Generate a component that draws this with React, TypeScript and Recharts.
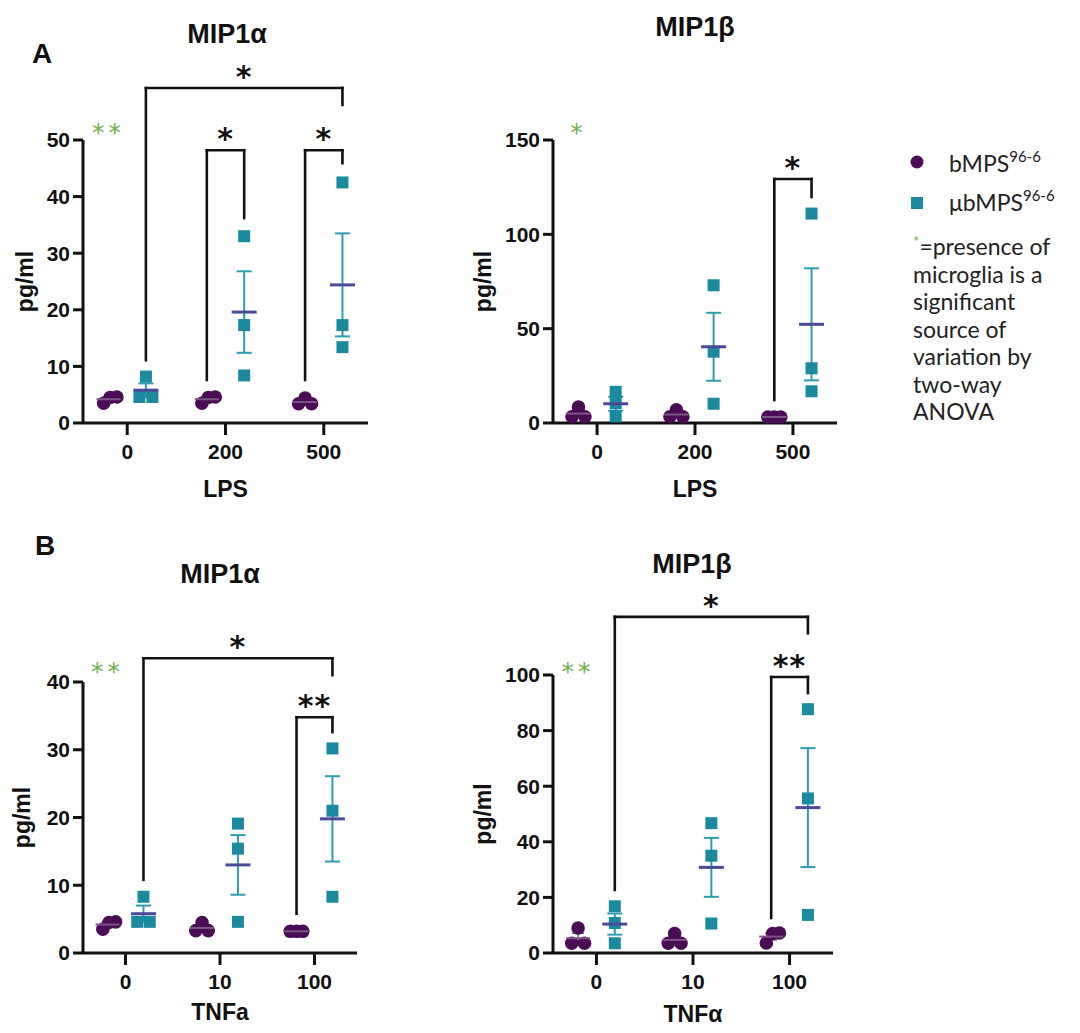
import React from "react";
import {
  ScatterChart,
  Scatter,
  XAxis,
  YAxis,
  ErrorBar,
  ReferenceLine,
  ReferenceDot,
} from "recharts";

const PURPLE = "#4a0d55";
const TEAL = "#1b8a9e";
const MEAN_TEAL = "#4b4a9a";
const ERR_TEAL = "#2f9db1";
const MEAN_PURPLE = "#7e5587";
const GREEN = "#6db14a";
const INK = "#111";
const AXIS_FONT = "'Liberation Sans', Arial, sans-serif";
const STAR_FONT = "'DejaVu Sans', sans-serif";
const NOTE_FONT = "Lato, 'Open Sans', sans-serif";

// x categories
const lpsDoses = ["0", "200", "500"];
const tnfDoses = ["0", "10", "100"];

// A - MIP1α vs LPS
const a1Bmps = [[3.5, 4.5, 4.6], [3.5, 4.5, 4.6], [3.4, 4.4, 3.4]];
const a1BmpsMean = [4.2, 4.2, 3.7];
const a1BmpsSem = [0.35, 0.35, 0.33];
const a1Ubmps = [[8.2, 4.6, 4.6], [33.0, 17.3, 8.4], [42.5, 17.3, 13.4]];
const a1UbmpsMean = [5.8, 19.6, 24.4];
const a1UbmpsSem = [1.2, 7.2, 9.1];

// A - MIP1β vs LPS
const a2Bmps = [[3.3, 8.5, 3.3], [3.3, 7.0, 3.3], [3.2, 3.2, 3.2]];
const a2BmpsMean = [5.0, 4.5, 3.2];
const a2BmpsSem = [1.7, 1.2, 0.05];
const a2Ubmps = [[16.5, 10.5, 3.5], [73.0, 37.8, 10.2], [111.0, 29.0, 16.8]];
const a2UbmpsMean = [10.2, 40.4, 52.3];
const a2UbmpsSem = [3.7, 18.0, 29.7];

// B - MIP1α vs TNFa
const b1Bmps = [[3.5, 4.5, 4.6], [3.3, 4.5, 3.3], [3.2, 3.2, 3.2]];
const b1BmpsMean = [4.2, 3.7, 3.2];
const b1BmpsSem = [0.35, 0.4, 0.05];
const b1Ubmps = [[8.3, 4.6, 4.6], [19.1, 15.4, 4.6], [30.2, 21.0, 8.3]];
const b1UbmpsMean = [5.8, 13.0, 19.8];
const b1UbmpsSem = [1.2, 4.4, 6.3];

// B - MIP1β vs TNFα
const b2Bmps = [[3.5, 9.0, 3.5], [3.5, 7.0, 3.5], [3.6, 7.0, 7.2]];
const b2BmpsMean = [5.3, 4.7, 5.9];
const b2BmpsSem = [1.8, 1.2, 1.2];
const b2Ubmps = [[16.8, 10.8, 3.5], [46.7, 35.0, 10.6], [87.7, 55.6, 13.7]];
const b2UbmpsMean = [10.4, 30.8, 52.3];
const b2UbmpsSem = [3.8, 10.6, 21.4];

// horizontal spread of points that collide inside a column
const DIAG = [-0.05, 0.015, 0.085];
const SPREAD = [-0.066, 0, 0.066];
const PAIR = [0, -0.066, 0.066];
const NONE = [0, 0, 0];

const OFF = 0.19;
const P = (i: number) => i - OFF;
const U = (i: number) => i + OFF;
const X_DOMAIN = [-0.45, 2.45];

type Bracket = { x1: number; x2: number; top: number; low1: number; low2: number; mark: string };

const a1Brackets: Bracket[] = [
  { x1: U(0), x2: U(2), top: 59.2, low1: 11.1, low2: 56.2, mark: "*" },
  { x1: P(1), x2: U(1), top: 48.2, low1: 7.6, low2: 36.2, mark: "*" },
  { x1: P(2), x2: U(2), top: 48.2, low1: 7.6, low2: 45.9, mark: "*" },
];
const a2Brackets: Bracket[] = [
  { x1: P(2), x2: U(2), top: 129.3, low1: 12.2, low2: 119.8, mark: "*" },
];
const b1Brackets: Bracket[] = [
  { x1: U(0), x2: U(2), top: 43.5, low1: 10.8, low2: 41.0, mark: "*" },
  { x1: P(2), x2: U(2), top: 34.8, low1: 5.8, low2: 32.6, mark: "**" },
];
const b2Brackets: Bracket[] = [
  { x1: U(0), x2: U(2), top: 120.9, low1: 22.7, low2: 115.0, mark: "*" },
  { x1: P(2), x2: U(2), top: 99.3, low1: 12.6, low2: 93.5, mark: "**" },
];

const noteLines = ["microglia is a", "significant", "source of", "variation by", "two-way", "ANOVA"];

const starLabel =
  (text: string, color: string, size: number, weight: number, lift: number, spacing = 0) =>
  (props: any) => {
    const vb = props.viewBox || {};
    const x = (vb.x ?? 0) + (vb.width ?? 0) / 2;
    const y = (vb.y ?? 0) + (vb.height ?? 0) / 2;
    return (
      <text
        x={x}
        y={y - lift}
        textAnchor="middle"
        fill={color}
        fontSize={size}
        fontWeight={weight}
        fontFamily={STAR_FONT}
        letterSpacing={spacing}
      >
        {text}
      </text>
    );
  };

function bracketEls(b: Bracket, k: string) {
  const line = { stroke: INK, strokeWidth: 2.6, ifOverflow: "visible" as const, strokeLinecap: "square" as const };
  return [
    <ReferenceLine key={k + "l"} segment={[{ x: b.x1, y: b.low1 }, { x: b.x1, y: b.top }]} {...line} />,
    <ReferenceLine key={k + "r"} segment={[{ x: b.x2, y: b.low2 }, { x: b.x2, y: b.top }]} {...line} />,
    <ReferenceLine
      key={k + "h"}
      segment={[{ x: b.x1, y: b.top }, { x: b.x2, y: b.top }]}
      {...line}
      label={starLabel(b.mark, INK, 30, 700, 1, 1)}
    />,
  ];
}

const axisStyle = { stroke: INK, strokeWidth: 3 };
const tickStyle = { fill: INK, fontSize: 21, fontWeight: 700, fontFamily: AXIS_FONT };

interface PanelProps {
  left: number;
  top: number;
  width: number;
  height: number;
  mTop: number;
  mRight: number;
  mBottom: number;
  cats: string[];
  bmps: number[][];
  bmpsMean: number[];
  bmpsSem: number[];
  bmpsJit: number[][];
  ubmps: number[][];
  ubmpsMean: number[];
  ubmpsSem: number[];
  ubmpsJit: number[][];
  yMax: number;
  yTicks: number[];
  brackets: Bracket[];
  green: string;
  greenY: number;
  xLabel: string;
  xLabelOffset: number;
  yLabelOffset: number;
}

function Panel(p: PanelProps) {
  const toPts = (vals: number[][], jit: number[][], off: number) =>
    vals.flatMap((g, i) => g.map((v, j) => ({ x: i + off + jit[i][j], y: v })));
  const toMean = (m: number[], s: number[], off: number) =>
    m.map((v, i) => ({ x: i + off, y: v, err: s[i] }));

  return (
    <div style={{ position: "absolute", left: p.left, top: p.top }}>
      <ScatterChart
        width={p.width}
        height={p.height}
        margin={{ top: p.mTop, right: p.mRight, bottom: p.mBottom, left: 0 }}
      >
        <XAxis
          type="number"
          dataKey="x"
          domain={X_DOMAIN}
          ticks={[0, 1, 2]}
          interval={0}
          allowDataOverflow
          tickFormatter={(v: number) => p.cats[v]}
          height={80}
          tickSize={12}
          tickMargin={9}
          axisLine={axisStyle}
          tickLine={axisStyle}
          tick={tickStyle}
          label={{
            value: p.xLabel,
            position: "insideBottom",
            offset: p.xLabelOffset,
            fill: INK,
            fontSize: 23,
            fontWeight: 700,
            fontFamily: AXIS_FONT,
          }}
        />
        <YAxis
          type="number"
          dataKey="y"
          domain={[0, p.yMax]}
          ticks={p.yTicks}
          interval={0}
          width={83}
          tickSize={10}
          tickMargin={3}
          axisLine={axisStyle}
          tickLine={axisStyle}
          tick={tickStyle}
          label={{
            value: "pg/ml",
            angle: -90,
            position: "insideLeft",
            offset: p.yLabelOffset,
            style: { textAnchor: "middle" },
            fill: INK,
            fontSize: 23,
            fontWeight: 700,
            fontFamily: AXIS_FONT,
          }}
        />
        <Scatter
          data={toPts(p.bmps, p.bmpsJit, -OFF)}
          isAnimationActive={false}
          shape={(s: any) => <circle cx={s.cx} cy={s.cy} r={6.8} fill={PURPLE} />}
        />
        <Scatter
          data={toPts(p.ubmps, p.ubmpsJit, OFF)}
          isAnimationActive={false}
          shape={(s: any) => <rect x={s.cx - 6} y={s.cy - 6} width={12} height={12} fill={TEAL} />}
        />
        <Scatter
          data={toMean(p.bmpsMean, p.bmpsSem, -OFF)}
          isAnimationActive={false}
          shape={(s: any) => (
            <line x1={s.cx - 12} x2={s.cx + 12} y1={s.cy} y2={s.cy} stroke={MEAN_PURPLE} strokeWidth={2} />
          )}
        >
          <ErrorBar dataKey="err" direction="y" width={6} stroke={MEAN_PURPLE} strokeWidth={1.5} isAnimationActive={false} />
        </Scatter>
        <Scatter
          data={toMean(p.ubmpsMean, p.ubmpsSem, OFF)}
          isAnimationActive={false}
          shape={(s: any) => (
            <line x1={s.cx - 12.5} x2={s.cx + 12.5} y1={s.cy} y2={s.cy} stroke={MEAN_TEAL} strokeWidth={3} />
          )}
        >
          <ErrorBar dataKey="err" direction="y" width={7.5} stroke={ERR_TEAL} strokeWidth={2} isAnimationActive={false} />
        </Scatter>
        {p.brackets.flatMap((b, i) => bracketEls(b, "b" + i))}
        <ReferenceDot
          x={-OFF}
          y={p.greenY}
          r={0}
          fill="none"
          stroke="none"
          ifOverflow="visible"
          label={starLabel(p.green, GREEN, 25, 400, -13, 4)}
        />
      </ScatterChart>
    </div>
  );
}

export default function App() {
  const title = { fontFamily: AXIS_FONT, fontWeight: 700, fontSize: 27, fill: INK, textAnchor: "middle" as const };
  const letter = { fontFamily: AXIS_FONT, fontWeight: 700, fontSize: 28, fill: INK };
  const note = { fontFamily: NOTE_FONT, fontSize: 23, fill: "#222" };
  return (
    <div style={{ position: "absolute", left: 0, top: 0, width: 1080, height: 1033, background: "#fff", overflow: "hidden" }}>
      <Panel
        left={0} top={0} width={400} height={520} mTop={140} mRight={32} mBottom={17}
        cats={lpsDoses}
        bmps={a1Bmps} bmpsMean={a1BmpsMean} bmpsSem={a1BmpsSem} bmpsJit={[DIAG, DIAG, SPREAD]}
        ubmps={a1Ubmps} ubmpsMean={a1UbmpsMean} ubmpsSem={a1UbmpsSem} ubmpsJit={[PAIR, NONE, NONE]}
        yMax={50} yTicks={[0, 10, 20, 30, 40, 50]}
        brackets={a1Brackets} green="**" greenY={52.1}
        xLabel="LPS" xLabelOffset={6} yLabelOffset={25}
      />
      <Panel
        left={470} top={0} width={400} height={520} mTop={140} mRight={33} mBottom={17}
        cats={lpsDoses}
        bmps={a2Bmps} bmpsMean={a2BmpsMean} bmpsSem={a2BmpsSem} bmpsJit={[SPREAD, SPREAD, SPREAD]}
        ubmps={a2Ubmps} ubmpsMean={a2UbmpsMean} ubmpsSem={a2UbmpsSem} ubmpsJit={[NONE, NONE, NONE]}
        yMax={150} yTicks={[0, 50, 100, 150]}
        brackets={a2Brackets} green="*" greenY={156.3}
        xLabel="LPS" xLabelOffset={6} yLabelOffset={13}
      />
      <Panel
        left={0} top={520} width={400} height={513} mTop={162} mRight={43} mBottom={0}
        cats={tnfDoses}
        bmps={b1Bmps} bmpsMean={b1BmpsMean} bmpsSem={b1BmpsSem} bmpsJit={[DIAG, SPREAD, SPREAD]}
        ubmps={b1Ubmps} ubmpsMean={b1UbmpsMean} ubmpsSem={b1UbmpsSem} ubmpsJit={[PAIR, NONE, NONE]}
        yMax={40} yTicks={[0, 10, 20, 30, 40]}
        brackets={b1Brackets} green="**" greenY={42.2}
        xLabel="TNFa" xLabelOffset={13} yLabelOffset={22}
      />
      <Panel
        left={470} top={520} width={400} height={513} mTop={155} mRight={37} mBottom={0}
        cats={tnfDoses}
        bmps={b2Bmps} bmpsMean={b2BmpsMean} bmpsSem={b2BmpsSem} bmpsJit={[SPREAD, SPREAD, DIAG]}
        ubmps={b2Ubmps} ubmpsMean={b2UbmpsMean} ubmpsSem={b2UbmpsSem} ubmpsJit={[NONE, NONE, NONE]}
        yMax={100} yTicks={[0, 20, 40, 60, 80, 100]}
        brackets={b2Brackets} green="**" greenY={102.9}
        xLabel="TNFα" xLabelOffset={11} yLabelOffset={13}
      />
      <svg width={1080} height={1033} style={{ position: "absolute", left: 0, top: 0, pointerEvents: "none" }}>
        <text x={32} y={63} {...letter}>A</text>
        <text x={35} y={555} {...letter}>B</text>
        <text x={227} y={43} {...title}>MIP1α</text>
        <text x={695} y={36} {...title}>MIP1β</text>
        <text x={220} y={583} {...title}>MIP1α</text>
        <text x={692} y={573} {...title}>MIP1β</text>

        <circle cx={917} cy={162} r={6.5} fill={PURPLE} />
        <text x={949} y={172} {...note}>
          bMPS<tspan fontSize={15} dy={-10}>96-6</tspan>
        </text>
        <rect x={911} y={197} width={12} height={12} fill={TEAL} />
        <text x={949} y={211} {...note}>
          μbMPS<tspan fontSize={15} dy={-10}>96-6</tspan>
        </text>
        <text x={913} y={255} {...note}>
          <tspan fill={GREEN} fontSize={15} dy={-8}>*</tspan>
          <tspan dy={8}>=presence of</tspan>
        </text>
        {noteLines.map((t, i) => (
          <text key={t} x={913} y={282.5 + i * 27.5} {...note}>
            {t}
          </text>
        ))}
      </svg>
    </div>
  );
}
